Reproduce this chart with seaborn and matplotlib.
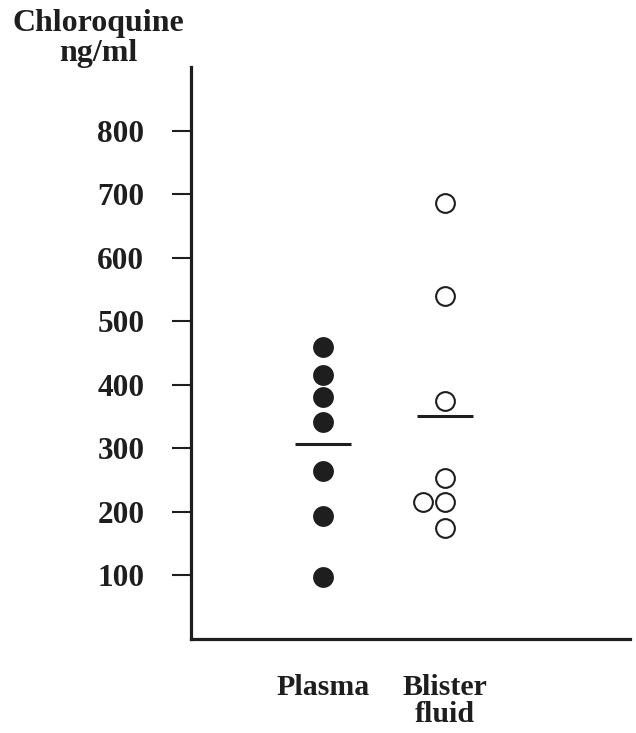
import matplotlib
matplotlib.use("Agg")
import matplotlib.pyplot as plt
import seaborn as sns
import pandas as pd
import numpy as np

# ---- data ----
categories = ["Plasma", "Blister\nfluid"]
plasma_values = [460, 416, 380, 342, 265, 193, 97]
blister_values = [686, 539, 375, 254, 215, 215, 175]
y_ticks = [100, 200, 300, 400, 500, 600, 700, 800]
y_label = "Chloroquine\nng/ml"

plasma_df = pd.DataFrame({"group": categories[0], "conc": plasma_values})
blister_df = pd.DataFrame({"group": categories[1], "conc": blister_values})
all_df = pd.concat([plasma_df, blister_df], ignore_index=True)

sns.set_theme(style="white")
plt.rcParams["font.family"] = ["Liberation Serif", "DejaVu Serif"]
plt.rcParams["font.weight"] = "bold"

ink = "#1e1e1e"
W, H = 636, 733
fig = plt.figure(figsize=(W / 100, H / 100), dpi=100)
ax = fig.add_axes([191 / W, 1 - 639 / H, (630 - 191) / W, (639 - 67) / H])

# filled dots for plasma
sns.swarmplot(data=plasma_df, x="group", y="conc", order=categories,
              color=ink, size=15, linewidth=0, ax=ax)
# open circles for blister fluid
sns.swarmplot(data=blister_df, x="group", y="conc", order=categories,
              color="white", edgecolor=ink, linewidth=1.5, size=13.5, ax=ax)
# mean bars
sns.pointplot(data=all_df, x="group", y="conc", order=categories,
              estimator="mean", errorbar=None, color=ink,
              marker="_", linestyle="none", markersize=41,
              markeredgewidth=2.2, ax=ax)

ax.set_ylim(0, 900)
ax.set_xlim(-1.082, 2.516)
ax.set_yticks(y_ticks)
ax.set_yticklabels([str(v) for v in y_ticks], fontsize=22.5, fontweight="bold",
                   color=ink)
ax.set_xticks(range(len(categories)))
ax.set_xticklabels(categories, fontsize=21.5, fontweight="bold", color=ink,
                   linespacing=1.0)
ax.tick_params(axis="y", direction="out", length=13.5, width=1.5, color=ink,
               pad=20, left=True)
ax.tick_params(axis="x", length=0, pad=25)
ax.set_xlabel("")
ax.set_ylabel("")

for side in ["top", "right"]:
    ax.spines[side].set_visible(False)
for side in ["left", "bottom"]:
    ax.spines[side].set_linewidth(2.3)
    ax.spines[side].set_color(ink)

fig.text(98 / W, 1 - 9 / H, y_label, ha="center", va="top", fontsize=23,
         fontweight="bold", color=ink, linespacing=1.05)

fig.savefig("out.png", dpi=100, facecolor="white")
